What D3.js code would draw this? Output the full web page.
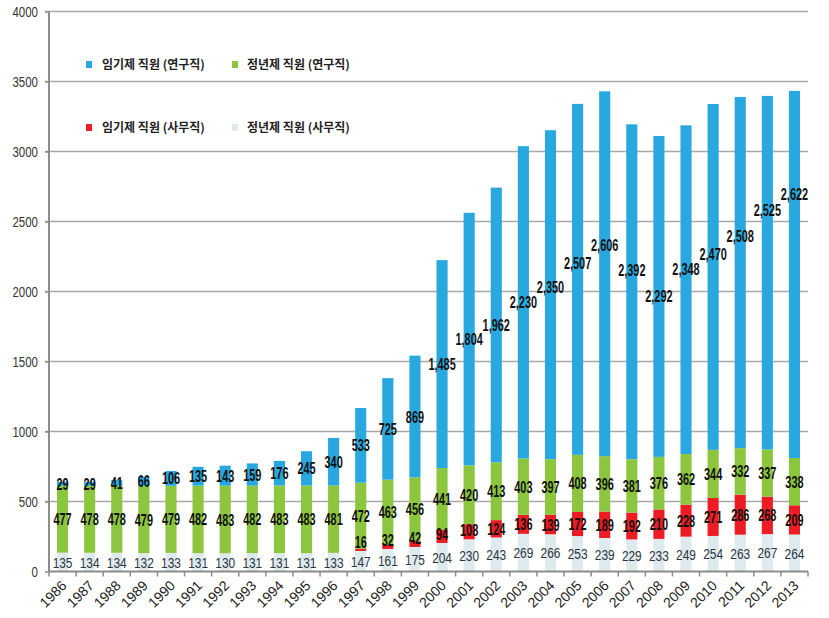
<!DOCTYPE html>
<html><head><meta charset="utf-8">
<script src="https://cdn.jsdelivr.net/npm/d3@7"></script>
<style>body{margin:0;background:#fff}</style></head>
<body>
<svg id="c" width="829" height="618"></svg>
<script>
const years = ["1986","1987","1988","1989","1990","1991","1992","1993","1994","1995","1996","1997","1998","1999","2000","2001","2002","2003","2004","2005","2006","2007","2008","2009","2010","2011","2012","2013"];
const seriesNames = ["정년제 직원 (사무직)","임기제 직원 (사무직)","정년제 직원 (연구직)","임기제 직원 (연구직)"];
const permAdmin = [135,134,134,132,133,131,130,131,131,131,133,147,161,175,204,230,243,269,266,253,239,229,233,249,254,263,267,264];
const tempAdmin = [0,0,0,0,0,0,0,0,0,0,0,16,32,42,94,108,124,136,139,172,189,192,210,228,271,286,268,209];
const permResearch = [477,478,478,479,479,482,483,482,483,483,481,472,463,456,441,420,413,403,397,408,396,381,376,362,344,332,337,338];
const tempResearch = [29,29,41,66,106,135,143,159,176,245,340,533,725,869,1485,1804,1962,2230,2350,2507,2606,2392,2292,2348,2470,2508,2525,2622];
// label anchor values (data units) for the manually placed blue labels; null = centred in segment
const blueLabelAt = [null,null,null,null,null,null,null,null,null,null,null,null,null,null,null,null,null,null,2032,2204,2332,2154,null,2161,2268,2396,2582,2696];
const yTicks = [0,500,1000,1500,2000,2500,3000,3500,4000];
const legendOrder = [3,2,1,0];

const colors = ["#dfeaef","#ec1c24","#8cc63e","#29a8e0"];
const sans = "'Liberation Sans',Arial,sans-serif";

const svg = d3.select("#c");
const L = 49, R = 808, T = 11.5, B = 571.5;

const x = d3.scaleBand().domain(years).range([L, R]).paddingInner(0.59).paddingOuter(0.295);
const y = d3.scaleLinear().domain([0, 4000]).range([B, T]);

// gridlines
svg.append("g").selectAll("line").data(yTicks.filter(v => v > 0)).join("line")
  .attr("x1", L - 4).attr("x2", R).attr("y1", d => y(d)).attr("y2", d => y(d))
  .attr("stroke", "#a9a9a9").attr("stroke-width", 1.5);

// y axis (ticks via axis, labels drawn condensed)
const ya = svg.append("g").attr("transform", `translate(${L},0)`)
  .call(d3.axisLeft(y).tickValues(yTicks).tickSize(4).tickFormat(""));
ya.select(".domain").remove();
ya.selectAll("line").attr("stroke", "#8c8c8c").attr("stroke-width", 1.5);
svg.append("g").selectAll("text").data(yTicks).join("text")
  .attr("transform", d => `translate(${L - 11},${y(d)}) scale(0.82,1.05)`)
  .attr("text-anchor", "end").attr("dy", "0.36em")
  .attr("font-family", sans).attr("font-size", 14).attr("fill", "#333")
  .text(d => d3.format("d")(d));

// stacked bars
const rows = years.map((yr, i) => ({year: yr, s0: permAdmin[i], s1: tempAdmin[i], s2: permResearch[i], s3: tempResearch[i], i}));
const stack = d3.stack().keys(["s0","s1","s2","s3"]);
const layers = stack(rows);

svg.append("g").selectAll("g").data(layers).join("g")
  .attr("fill", (d, k) => colors[k])
  .selectAll("rect").data(d => d).join("rect")
  .attr("x", d => x(d.data.year)).attr("width", x.bandwidth())
  .attr("y", d => y(d[1])).attr("height", d => Math.max(0, y(d[0]) - y(d[1])));

// axes lines
svg.append("line").attr("x1", L).attr("x2", L).attr("y1", T).attr("y2", B)
  .attr("stroke", "#8c8c8c").attr("stroke-width", 2);
svg.append("line").attr("x1", L).attr("x2", R).attr("y1", B).attr("y2", B)
  .attr("stroke", "#8c8c8c").attr("stroke-width", 2);
// category boundary ticks
const bounds = d3.range(years.length + 1).map(k => L + k * x.step());
svg.append("g").selectAll("line").data(bounds).join("line")
  .attr("x1", d => d).attr("x2", d => d).attr("y1", B).attr("y2", B + 5)
  .attr("stroke", "#8c8c8c").attr("stroke-width", 1.5);

// x labels
svg.append("g").selectAll("text").data(years).join("text")
  .attr("transform", d => `translate(${x(d) + x.bandwidth()/2 + 5},${B + 15}) rotate(-45)`)
  .attr("text-anchor", "end").attr("font-family", sans)
  .attr("font-size", 14).attr("fill", "#222").text(d => d);

// value labels
const fmt = d3.format(",");
const lab = svg.append("g");
layers.forEach((layer, k) => {
  layer.forEach(d => {
    const v = d[1] - d[0];
    if (v <= 0) return;
    const i = d.data.i;
    let yc = (y(d[0]) + y(d[1])) / 2;
    if (k === 1) yc = Math.min(yc, y(d[0]) - 9);
    if (k === 3 && blueLabelAt[i] != null) yc = y(blueLabelAt[i]);
    const cx = x(d.data.year) + x.bandwidth() / 2;
    const t = lab.append("text")
      .attr("text-anchor", "middle").attr("dy", "0.36em")
      .attr("font-family", sans)
      .text(fmt(v));
    if (k === 0) {
      t.attr("transform", `translate(${cx},${yc}) scale(0.82,1.05)`).attr("font-size", 14.5).attr("fill", "#2b3440");
    } else {
      t.attr("transform", `translate(${cx},${yc}) scale(0.78,1.2)`).attr("font-size", 14)
        .attr("font-weight", "bold").attr("fill", "#111");
    }
  });
});

// legend
const lg = svg.append("g");
legendOrder.forEach((k, j) => {
  const col = j % 2, row = Math.floor(j / 2);
  const gx = 86 + col * 146, gy = 65 + row * 63;
  lg.append("rect").attr("x", gx).attr("y", gy - 4).attr("width", 6).attr("height", 7).attr("fill", colors[k]);
  lg.append("text").attr("x", gx + 16 - col * 1).attr("y", gy).attr("dy", "0.36em")
    .attr("font-family", "'Noto Sans CJK KR',sans-serif").attr("font-size", 12).attr("font-weight", "bold")
    .attr("fill", "#222").text(seriesNames[k]);
});
</script>
</body></html>
